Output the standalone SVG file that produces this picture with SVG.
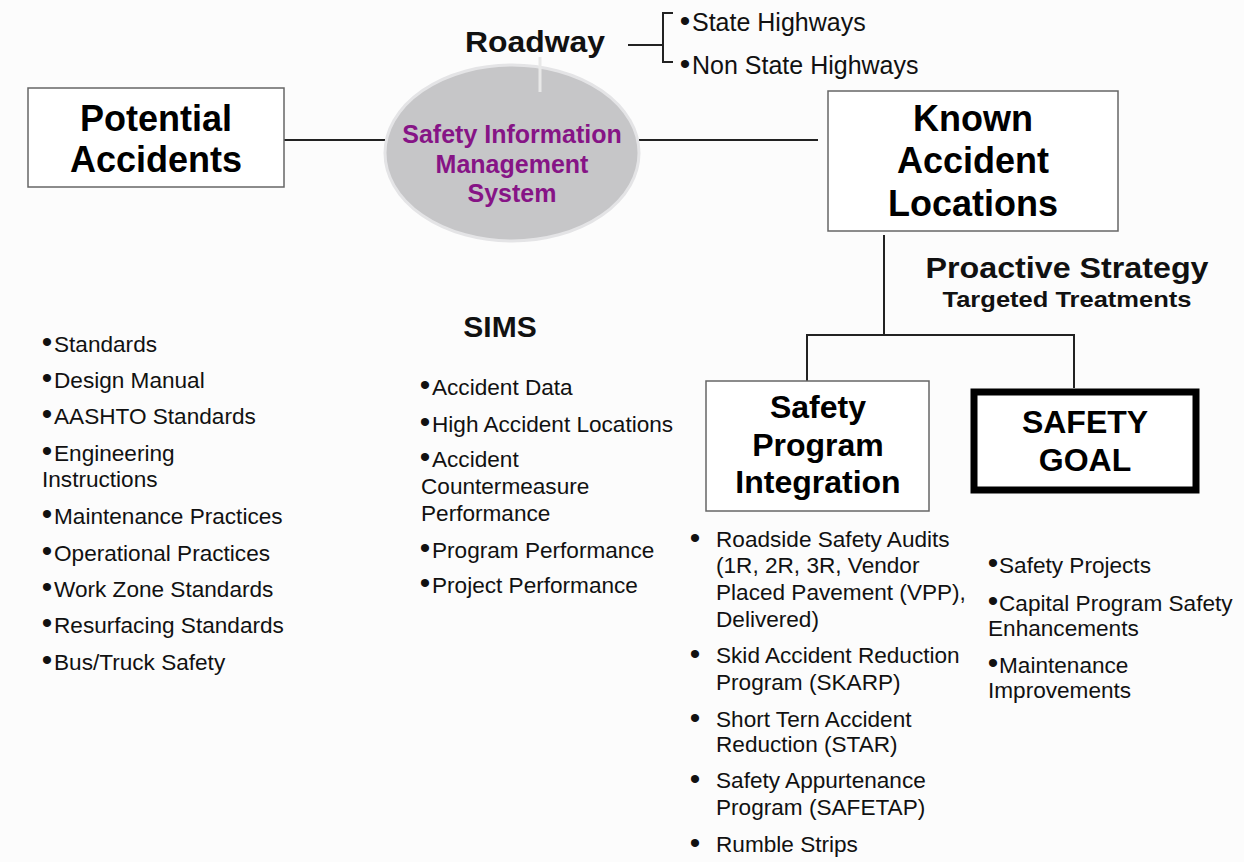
<svg xmlns="http://www.w3.org/2000/svg" width="1244" height="862" viewBox="0 0 1244 862">
<style>
text{font-family:"Liberation Sans",Arial,sans-serif;fill:#111}
.h{font-weight:bold;font-size:36px;fill:#000;text-anchor:middle}
.m{font-weight:bold;font-size:32px;fill:#000;text-anchor:middle}
.p{font-weight:bold;font-size:25px;fill:#861486;text-anchor:middle}
.l{font-size:22.6px}
.hw{font-size:25px}
.sb{font-size:30px;text-anchor:middle}
.rb{font-size:30px;text-anchor:middle}
.box{fill:#fff;stroke:#666;stroke-width:1.5}
.c{stroke:#222;stroke-width:2;fill:none}
</style>
<rect width="1244" height="862" fill="#fcfcfc"/>
<g id="connectors">
<line class="c" x1="284" y1="140" x2="385" y2="140"/>
<line class="c" x1="639" y1="140" x2="818" y2="140"/>
<line class="c" x1="628" y1="45" x2="663" y2="45"/>
<path class="c" d="M673 13 H663 V62 H673" stroke-width="1.8"/>
<path class="c" d="M884 235 V335"/>
<path class="c" d="M807 381 V335 H1074 V388"/>
</g>
<g id="roadway">
<text x="535" y="52" font-weight="bold" font-size="30" fill="#000" text-anchor="middle" textLength="140" lengthAdjust="spacingAndGlyphs">Roadway</text>
</g>
<g id="highways">
<text class="sb" x="685" y="31">•</text><text class="hw" x="692" y="31">State Highways</text>
<text class="sb" x="685" y="74">•</text><text class="hw" x="692" y="74">Non State Highways</text>
</g>
<g id="potential-accidents">
<rect class="box" x="28" y="88" width="256" height="99"/>
<text class="h" x="156" y="131">Potential</text>
<text class="h" x="156" y="172">Accidents</text>
</g>
<g id="sims-ellipse">
<ellipse cx="512" cy="153" rx="127" ry="88" fill="#c6c6c8" stroke="#e4e4e6" stroke-width="3"/>
<line x1="540" y1="57" x2="540" y2="92" stroke="#e8e8e8" stroke-width="3"/>
<text class="p" x="512" y="143">Safety Information</text>
<text class="p" x="512" y="173">Management</text>
<text class="p" x="512" y="202">System</text>
</g>
<g id="known-accident-locations">
<rect class="box" x="828" y="91" width="290" height="140"/>
<text class="h" x="973" y="131">Known</text>
<text class="h" x="973" y="173">Accident</text>
<text class="h" x="973" y="216">Locations</text>
</g>
<g id="proactive">
<text x="1067" y="278" font-weight="bold" font-size="29" fill="#000" text-anchor="middle" textLength="283" lengthAdjust="spacingAndGlyphs">Proactive Strategy</text>
<text x="1067" y="307" font-weight="bold" font-size="22" fill="#000" text-anchor="middle" textLength="249" lengthAdjust="spacingAndGlyphs">Targeted Treatments</text>
</g>
<g id="safety-program-integration">
<rect class="box" x="706" y="381" width="223" height="130"/>
<text class="m" x="818" y="418">Safety</text>
<text class="m" x="818" y="456">Program</text>
<text class="m" x="818" y="493">Integration</text>
</g>
<g id="safety-goal">
<rect x="974" y="392" width="222" height="98" fill="#fff" stroke="#000" stroke-width="7"/>
<text class="m" x="1085" y="433">SAFETY</text>
<text class="m" x="1085" y="471">GOAL</text>
</g>
<g id="standards-list">
<text class="sb" x="47" y="352">•</text><text class="l" x="54" y="352">Standards</text>
<text class="sb" x="47" y="388">•</text><text class="l" x="54" y="388">Design Manual</text>
<text class="sb" x="47" y="424">•</text><text class="l" x="54" y="424">AASHTO Standards</text>
<text class="sb" x="47" y="461">•</text><text class="l" x="54" y="461">Engineering</text>
<text class="l" x="42" y="487">Instructions</text>
<text class="sb" x="47" y="524">•</text><text class="l" x="54" y="524">Maintenance Practices</text>
<text class="sb" x="47" y="561">•</text><text class="l" x="54" y="561">Operational Practices</text>
<text class="sb" x="47" y="597">•</text><text class="l" x="54" y="597">Work Zone Standards</text>
<text class="sb" x="47" y="633">•</text><text class="l" x="54" y="633">Resurfacing Standards</text>
<text class="sb" x="47" y="670">•</text><text class="l" x="54" y="670">Bus/Truck Safety</text>
</g>
<g id="sims-list">
<text x="500" y="337" font-weight="bold" font-size="30" fill="#000" text-anchor="middle">SIMS</text>
<text class="sb" x="425" y="395">•</text><text class="l" x="432" y="395">Accident Data</text>
<text class="sb" x="425" y="432">•</text><text class="l" x="432" y="432">High Accident Locations</text>
<text class="sb" x="425" y="467">•</text><text class="l" x="432" y="467">Accident</text>
<text class="l" x="421" y="494">Countermeasure</text>
<text class="l" x="421" y="521">Performance</text>
<text class="sb" x="425" y="558">•</text><text class="l" x="432" y="558">Program Performance</text>
<text class="sb" x="425" y="593">•</text><text class="l" x="432" y="593">Project Performance</text>
</g>
<g id="program-list">
<text class="rb" x="695" y="548">•</text>
<text class="l" x="716" y="547">Roadside Safety Audits</text>
<text class="l" x="716" y="573">(1R, 2R, 3R, Vendor</text>
<text class="l" x="716" y="600">Placed Pavement (VPP),</text>
<text class="l" x="716" y="627">Delivered)</text>
<text class="rb" x="695" y="664">•</text>
<text class="l" x="716" y="663">Skid Accident Reduction</text>
<text class="l" x="716" y="690">Program (SKARP)</text>
<text class="rb" x="695" y="728">•</text>
<text class="l" x="716" y="727">Short Tern Accident</text>
<text class="l" x="716" y="752">Reduction (STAR)</text>
<text class="rb" x="695" y="789">•</text>
<text class="l" x="716" y="788">Safety Appurtenance</text>
<text class="l" x="716" y="815">Program (SAFETAP)</text>
<text class="rb" x="695" y="853">•</text>
<text class="l" x="716" y="852">Rumble Strips</text>
</g>
<g id="goal-list">
<text class="sb" x="993" y="573">•</text><text class="l" x="999" y="573">Safety Projects</text>
<text class="sb" x="993" y="611">•</text><text class="l" x="999" y="611">Capital Program Safety</text>
<text class="l" x="988" y="636">Enhancements</text>
<text class="sb" x="993" y="673">•</text><text class="l" x="999" y="673">Maintenance</text>
<text class="l" x="988" y="698">Improvements</text>
</g>
</svg>
